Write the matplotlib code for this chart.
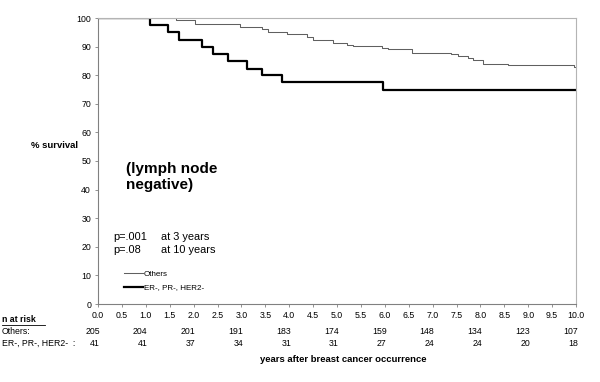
import matplotlib
matplotlib.use("Agg")
import matplotlib.pyplot as plt  # noqa: E402

plt.rcParams["font.family"] = ["Liberation Sans", "DejaVu Sans"]

# Kaplan-Meier step curves (years, % survival)
OTHERS_T = [0, 1.63, 2.03, 2.97, 3.43, 3.56, 3.95, 4.37, 4.50, 4.92, 5.20, 5.33,
            5.94, 6.07, 6.57, 7.39, 7.53, 7.74, 7.84, 8.05, 8.58, 9.95, 10.0]
OTHERS_S = [100, 99.4, 97.9, 97.0, 96.2, 95.2, 94.3, 93.5, 92.3, 91.2, 90.6, 90.2,
            89.4, 89.0, 87.9, 87.4, 86.8, 86.0, 85.3, 84.0, 83.6, 82.8, 82.8]
TNEG_T = [0, 1.09, 1.47, 1.69, 2.18, 2.41, 2.73, 3.12, 3.44, 3.84, 5.96, 10.0]
TNEG_S = [100, 97.6, 95.0, 92.4, 90.0, 87.5, 85.0, 82.3, 79.9, 77.5, 74.7, 74.7]

# numbers at risk
RISK_YEARS = [0, 1, 2, 3, 4, 5, 6, 7, 8, 9, 10]
RISK_OTHERS = [205, 204, 201, 191, 183, 174, 159, 148, 134, 123, 107]
RISK_TNEG = [41, 41, 37, 34, 31, 31, 27, 24, 24, 20, 18]

XTICKS = [i * 0.5 for i in range(21)]
YTICKS = list(range(0, 101, 10))

W, H = 600, 382
SMALL = 6.3
fig = plt.figure(figsize=(W / 100, H / 100), dpi=100)
ax = fig.add_axes([98 / W, 1 - 304 / H, (576 - 98) / W, (304 - 18) / H])

ax.plot(OTHERS_T, OTHERS_S, drawstyle="steps-post", color="#606060", lw=0.75, label="Others")
ax.plot(TNEG_T, TNEG_S, drawstyle="steps-post", color="black", lw=1.6, label="ER-, PR-, HER2-")

ax.set_xlim(0, 10)
ax.set_ylim(0, 100)
ax.set_xticks(XTICKS)
ax.set_xticklabels([f"{v:.1f}" for v in XTICKS])
ax.set_yticks(YTICKS)
ax.tick_params(labelsize=SMALL, length=2.5, width=0.6, color="#808080", pad=2.5)
for side in ("left", "bottom"):
    ax.spines[side].set_color("#808080")
    ax.spines[side].set_linewidth(0.8)
for side in ("top", "right"):
    ax.spines[side].set_color("#b4b4b4")
    ax.spines[side].set_linewidth(0.8)

fig.text(55 / W, 1 - 145 / H, "% survival", fontsize=6.8, fontweight="bold",
         ha="center", va="center")
fig.text(126 / W, 1 - 162 / H, "(lymph node\nnegative)", fontsize=11,
         fontweight="bold", ha="left", va="top", linespacing=1.2)
fig.text(113 / W, 1 - 237 / H, "p=.001", fontsize=7.9, va="center")
fig.text(161 / W, 1 - 237 / H, "at 3 years", fontsize=7.9, va="center")
fig.text(113 / W, 1 - 250 / H, "p=.08", fontsize=7.9, va="center")
fig.text(161 / W, 1 - 250 / H, "at 10 years", fontsize=7.9, va="center")

ax.legend(loc="upper left", bbox_to_anchor=(124 / W, 1 - 270 / H),
          bbox_transform=fig.transFigure, frameon=False, fontsize=5.8,
          handlelength=2.3, handletextpad=0.15, labelspacing=0.75,
          borderpad=0, borderaxespad=0)

# n at risk table below the axis
tr = matplotlib.transforms.blended_transform_factory(ax.transData, fig.transFigure)
fig.text(2 / W, 1 - 320 / H, "n at risk", fontsize=SMALL, fontweight="bold", va="center")
fig.add_artist(plt.Line2D([2 / W, 45 / W], [1 - 324.5 / H, 1 - 324.5 / H],
                          color="black", lw=0.6))
fig.text(2 / W, 1 - 331 / H, "Others:", fontsize=SMALL, va="center")
fig.text(2 / W, 1 - 343 / H, "ER-, PR-, HER2-  :", fontsize=SMALL, va="center")
for yr, a, b in zip(RISK_YEARS, RISK_OTHERS, RISK_TNEG):
    ax.text(yr + 0.04, 1 - 331 / H, str(a), transform=tr, fontsize=SMALL, ha="right", va="center")
    ax.text(yr + 0.04, 1 - 343 / H, str(b), transform=tr, fontsize=SMALL, ha="right", va="center")

fig.text(343 / W, 1 - 359 / H, "years after breast cancer occurrence", fontsize=6.8,
         fontweight="bold", ha="center", va="center")

fig.savefig("out.png", dpi=100)
